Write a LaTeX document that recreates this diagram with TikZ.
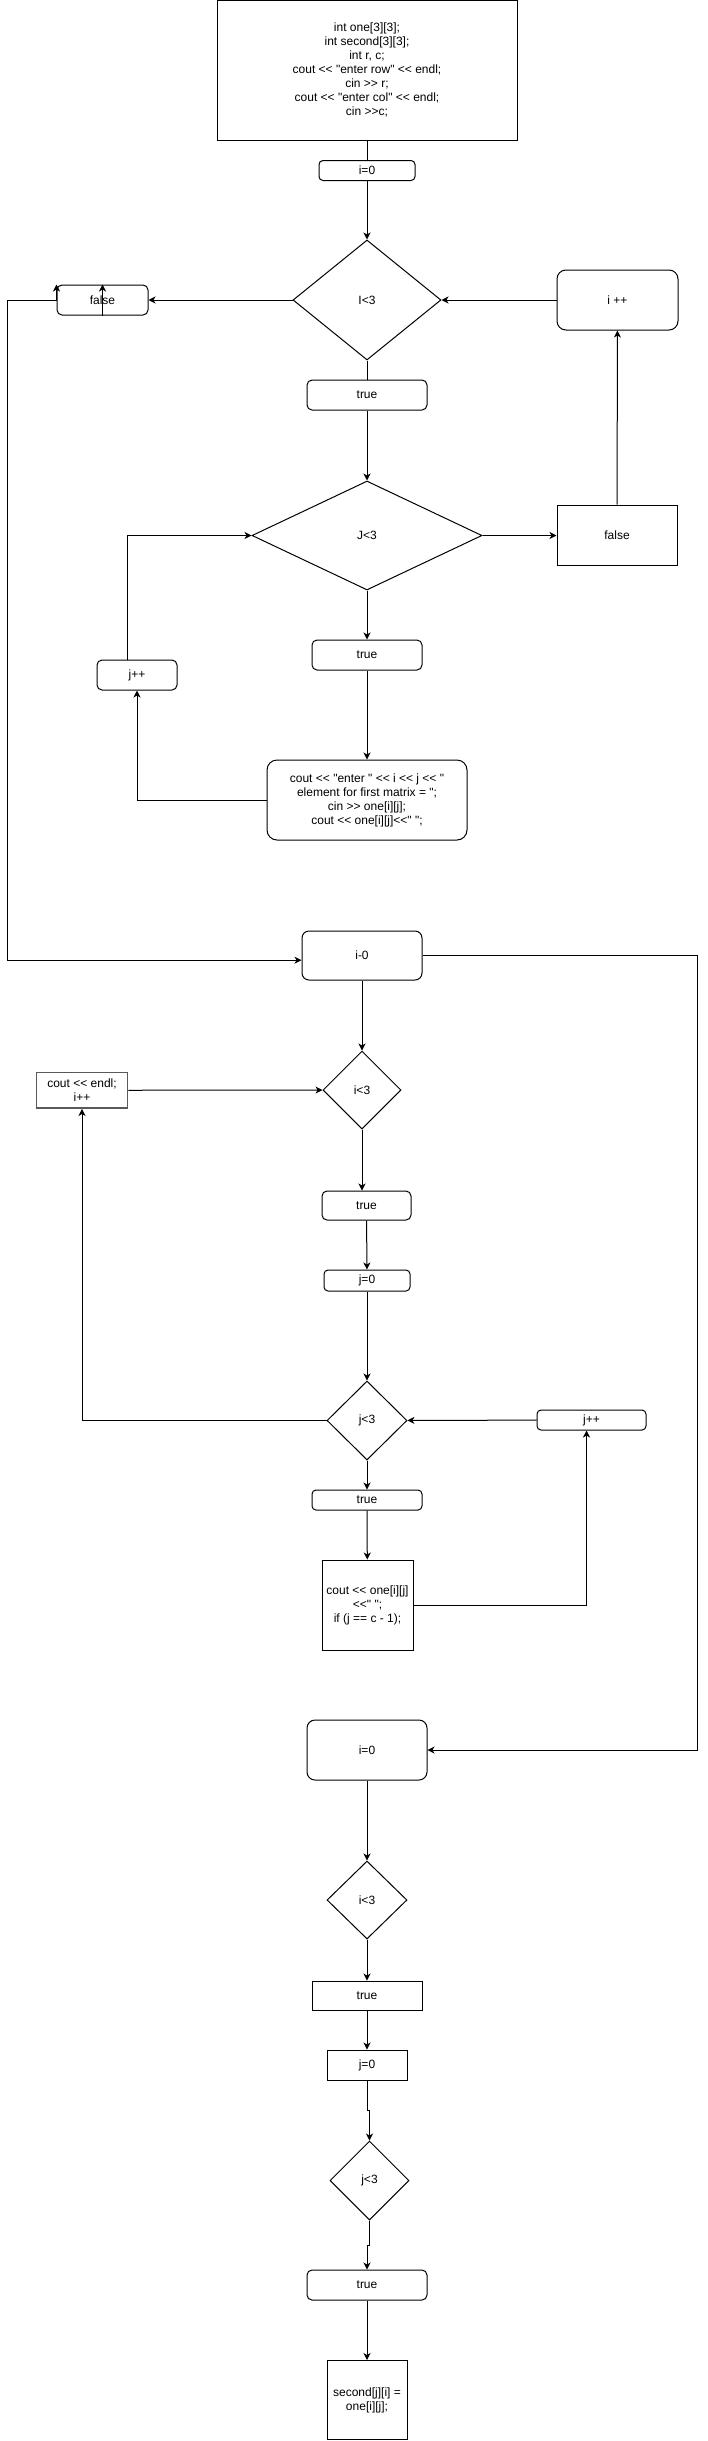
\documentclass[tikz,border=0pt]{standalone}
\usepackage{fontspec}
\setmainfont{Liberation Sans}[Ligatures=TeXOff]
\usetikzlibrary{shapes.geometric,arrows.meta}

\tikzset{
  blk/.style={draw,line width=1pt,inner sep=0pt,align=center,font=\fontsize{12}{14}\selectfont},
  rblk/.style={blk,rounded corners=5pt},
  dec/.style={blk,diamond},
  go/.style={line width=1pt,-{Stealth[length=7pt,width=7pt,inset=2pt]}},
  ln/.style={line width=1pt},
}

\begin{document}
\begin{tikzpicture}[x=1pt,y=-1pt]
\fill[white] (0,0) rectangle (707,2441);
\useasboundingbox (0,0) rectangle (707,2441);
% reading matrix one
\node[blk,minimum width=300pt,minimum height=139.5pt] (decl) at (367,70.25) {int one[3][3];\\ int second[3][3];\\ int r, c;\\ cout << "enter row" << endl;\\ cin >> r;\\ cout << "enter col" << endl;\\ cin >>c;};
\node[rblk,rounded corners=4pt,minimum width=96pt,minimum height=20pt] (initA) at (367,170.5) {i=0};
\node[dec,minimum width=148pt,minimum height=120pt] (condA) at (367,300) {I<3};
\node[rblk,minimum width=91pt,minimum height=30pt] (falseA) at (102.5,300) {false};
\node[rblk,rounded corners=9pt,minimum width=121pt,minimum height=60pt] (incA) at (617.5,300) {i ++};
\node[rblk,minimum width=120pt,minimum height=30pt] (trueA) at (367,395) {true};
\node[dec,minimum width=230pt,minimum height=109pt] (condB) at (367,535.5) {J<3};
\node[blk,minimum width=120pt,minimum height=60pt] (falseB) at (617,535) {false};
\node[rblk,minimum width=110pt,minimum height=30pt] (trueB) at (367,655) {true};
\node[rblk,rounded corners=10pt,minimum width=200pt,minimum height=80pt] (readA) at (367,800) {cout << "enter " << i << j << "\\ element for first matrix = ";\\ cin >> one[i][j];\\ cout << one[i][j]<<" ";};
\node[rblk,minimum width=80pt,minimum height=30pt] (incB) at (137,675) {j++};

\draw[ln] (decl) -- (initA);
\draw[go] (initA) -- (condA);
\draw[go] (condA) -- (falseA);
\draw[go] (incA) -- (condA);
\draw[go] (falseB) -- (incA);
\draw[ln] (condA) -- (trueA);
\draw[go] (trueA) -- (condB);
\draw[go] (condB.east) -- (condB.east -| falseB.west);
\draw[go] (condB) -- (trueB);
\draw[go] (trueB) -- (readA);
\draw[go] (readA.west) -| (incB.south);
\draw[go] ([xshift=-9.5pt]incB.north) |- (condB.west);
\draw[go] (falseA.south) -- (falseA.north);
\draw[go] (falseA.west) -- (falseA.north west);

% printing matrix one
\node[rblk,rounded corners=7pt,minimum width=120pt,minimum height=49pt] (initB) at (362,955.5) {i-0};
\node[dec,minimum width=78pt,minimum height=78pt] (condC) at (362,1090) {i<3};
\node[blk,draw=black!65,line width=1.8pt,minimum width=91pt,minimum height=35.5pt] (endl) at (82,1090.3) {cout << endl;\\ i++};
\node[rblk,minimum width=89pt,minimum height=29pt] (trueC) at (366.5,1205.5) {true};
\node[rblk,rounded corners=4pt,minimum width=86pt,minimum height=21pt] (initC) at (367,1280.5) {j=0};
\node[dec,minimum width=80pt,minimum height=79pt] (condD) at (367,1420.5) {j<3};
\node[rblk,rounded corners=4pt,minimum width=109pt,minimum height=20pt] (incC) at (591.5,1420) {j++};
\node[rblk,rounded corners=4pt,minimum width=110pt,minimum height=20pt] (trueD) at (367,1500) {true};
\node[blk,minimum width=91pt,minimum height=90pt] (printA) at (367.5,1605) {cout << one[i][j]\\ <<" ";\\ if (j == c - 1);};

\draw[go] (falseA.west) -- (7.5,300) |- ([yshift=-4.7pt]initB.west);
\draw[go] (initB) -- (condC);
\draw[go] (endl) -- (condC);
\draw[go] (condC.south) -- (condC.south |- trueC.north);
\draw[go] (trueC) -- (initC);
\draw[go] (initC) -- (condD);
\draw[go] (condD.west) -| (endl.south);
\draw[go] (incC) -- (condD);
\draw[go] (condD) -- (trueD);
\draw[go] (trueD) -- (printA);
\draw[go] (printA.east) -| ([xshift=-5pt]incC.south);

% transpose
\node[rblk,rounded corners=8pt,minimum width=120pt,minimum height=60pt] (initD) at (367,1750) {i=0};
\node[dec,minimum width=80pt,minimum height=78pt] (condE) at (367,1900) {i<3};
\node[blk,minimum width=110pt,minimum height=29pt] (trueE) at (367,1995.5) {true};
\node[blk,minimum width=80pt,minimum height=30pt] (initE) at (367,2065) {j=0};
\node[dec,minimum width=79pt,minimum height=79pt] (condF) at (369.5,2180.5) {j<3};
\node[rblk,minimum width=120pt,minimum height=30pt] (trueF) at (367,2285) {true};
\node[blk,minimum width=80pt,minimum height=79pt] (lastA) at (367,2400) {second[j][i] =\\ one[i][j];};

\draw[go] (initB.east) -- ++(275,0) |- (initD.east);
\draw[go] (initD) -- (condE);
\draw[go] (condE) -- (trueE);
\draw[go] (trueE) -- (initE);
\draw[go] (initE.south) -- ++(0,30) -| (condF.north);
\draw[go] (condF.south) -- ++(0,25) -| (trueF.north);
\draw[go] (trueF) -- (lastA);
\end{tikzpicture}
\end{document}
